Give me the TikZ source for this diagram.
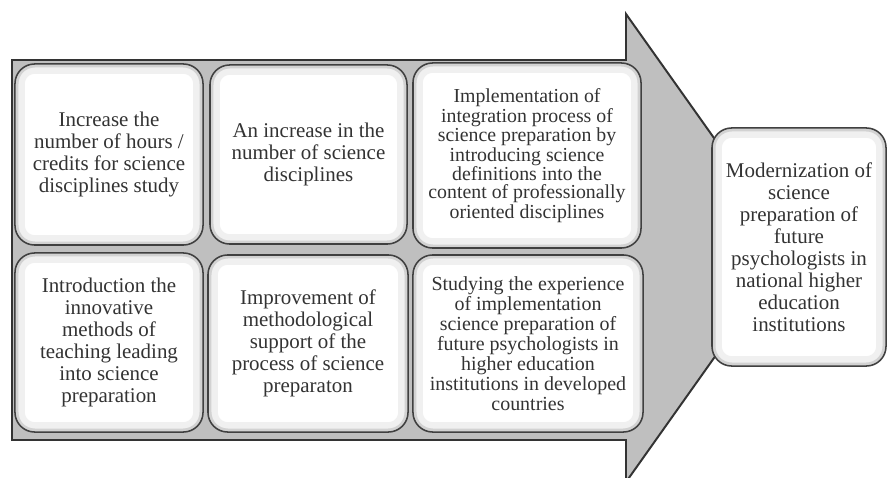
\documentclass[tikz,border=0pt]{standalone}
\usepackage{fontspec}
\setmainfont{Liberation Serif}
\usetikzlibrary{positioning}

\tikzset{
  card/.style={draw=black!75, line width=1.1pt, fill=white, rounded corners=14pt,
    align=center, text=black!80, inner sep=0pt,
    path picture={
      \draw[gray!12, line width=14pt, rounded corners=14pt]
        (path picture bounding box.south west) rectangle (path picture bounding box.north east);
      \draw[gray!35, line width=5pt, rounded corners=14pt]
        (path picture bounding box.south west) rectangle (path picture bounding box.north east);
    }},
  bigtext/.style={font=\fontsize{14.9}{15.6}\selectfont},
}

\begin{document}
\begin{tikzpicture}[x=0.025cm, y=-0.025cm]
    \useasboundingbox (0,0) rectangle (887,478);

    % arrow
    \draw[draw=black!80, line width=1.4pt, fill=gray!50]
      (12,60) -- (626,60) -- (626,14) -- (792,248) -- (626,482) -- (626,440) -- (12,440) -- cycle;

    % upper row
    \node[card, bigtext, minimum width=4.7cm, minimum height=4.525cm] (b1) at (109,154.5)
      {Increase the\\number of hours /\\credits for science\\disciplines study};
    \node[card, bigtext, minimum width=4.925cm, minimum height=4.475cm] (b2) at (308.5,154.5)
      {An increase in the\\number of science\\disciplines};
    \node[card, font=\fontsize{14.1}{12.6}\selectfont, minimum width=5.7cm, minimum height=4.625cm] (b3) at (527,155.5)
      {Implementation of\\integration process of\\science preparation by\\introducing science\\definitions into the\\content of professionally\\oriented disciplines};

    % lower row
    \node[card, bigtext, minimum width=4.7cm, minimum height=4.475cm] (b4) at (109,342.5)
      {Introduction the\\innovative\\methods of\\teaching leading\\into science\\preparation};
    \node[card, bigtext, minimum width=5.0cm, minimum height=4.425cm] (b5) at (308,343.5)
      {Improvement of\\methodological\\support of the\\process of science\\preparaton};
    \node[card, font=\fontsize{14.2}{14.2}\selectfont, minimum width=5.75cm, minimum height=4.425cm] (b6) at (528,343.5)
      {Studying the experience\\of implementation\\science preparation of\\future psychologists in\\higher education\\institutions in developed\\countries};

    % result
    \node[card, bigtext, minimum width=4.35cm, minimum height=5.95cm] (res) at (799,247)
      {Modernization of\\science\\preparation of\\future\\psychologists in\\national higher\\education\\institutions};
\end{tikzpicture}
\end{document}
